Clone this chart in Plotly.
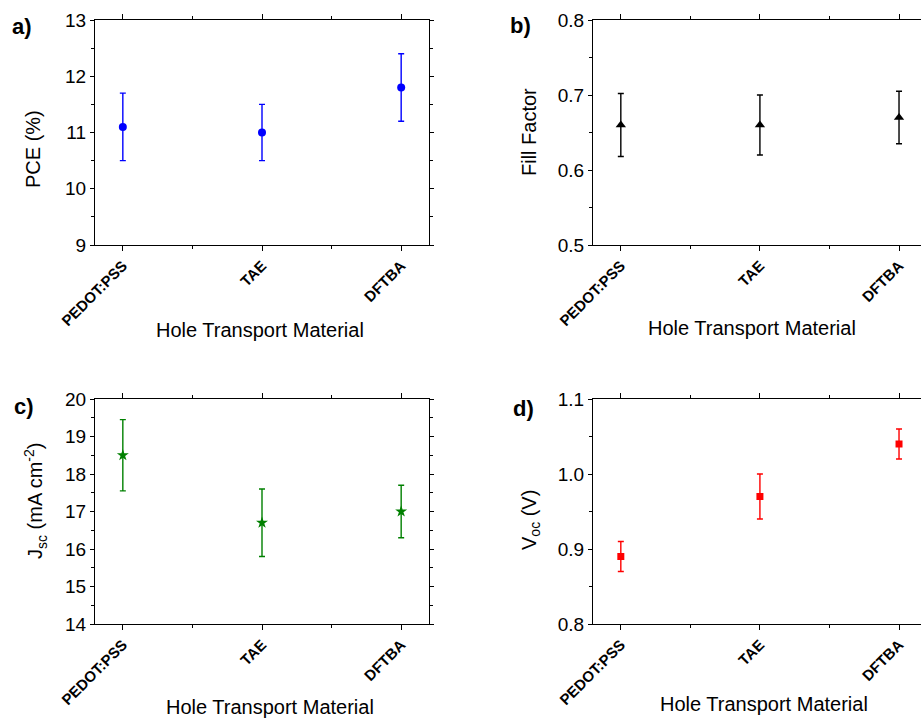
import plotly.graph_objects as go

W, H = 921, 718

categories = ["PEDOT:PSS", "TAE", "DFTBA"]

pce_mean = [11.1, 11.0, 11.8]
pce_err = [0.6, 0.5, 0.6]

ff_mean = [0.66, 0.66, 0.67]
ff_err = [0.042, 0.040, 0.035]

jsc_mean = [18.5, 16.7, 17.0]
jsc_err = [0.95, 0.90, 0.70]

voc_mean = [0.89, 0.97, 1.04]
voc_err = [0.02, 0.03, 0.02]

xpos = list(range(len(categories)))

FONT = "Liberation Sans, Arial, sans-serif"

def px_x(p):
    return p / W

def px_y(p):
    return 1 - p / H

fig = go.Figure()

panels = [
    ("", pce_mean, pce_err, "#0000ff", "circle", 8, (95, 429), (20, 245), [9, 13], 1, 0.5, [-0.2, 2.2]),
    ("2", ff_mean, ff_err, "#000000", "triangle-up", 9, (593, 921), (20, 245), [0.5, 0.8], 0.1, 0.05, [-0.2, 2.158]),
    ("3", jsc_mean, jsc_err, "#008000", "star", 9, (95, 429), (399, 624), [14, 20], 1, 0.5, [-0.2, 2.2]),
    ("4", voc_mean, voc_err, "#ff0000", "square", 7, (593, 921), (399, 624), [0.8, 1.1], 0.1, 0.05, [-0.2, 2.158]),
]

layout_axes = {}
for suf, mean, err, color, symbol, size, xd, yd, yr, dt, mdt, xr in panels:
    fig.add_trace(go.Scatter(
        x=xpos, y=mean, mode="markers",
        xaxis="x" + suf, yaxis="y" + suf,
        marker=dict(color=color, symbol=symbol, size=size, line=dict(width=0)),
        error_y=dict(type="data", array=err, visible=True, color=color, thickness=1.4, width=3),
        showlegend=False, cliponaxis=False,
    ))
    tickformat = ".1f" if dt < 1 else "d"
    layout_axes["xaxis" + suf] = dict(
        domain=[px_x(xd[0]), min(px_x(xd[1]), 1.0)],
        anchor="y" + suf,
        range=xr, automargin=False,
        tickmode="array", tickvals=xpos, ticktext=categories,
        tickangle=-45,
        tickfont=dict(family=FONT, size=15, color="black", weight="bold"),
        ticks="outside", ticklen=5, tickwidth=1.2, tickcolor="black",
        minor=dict(tickmode="array", tickvals=[0.5, 1.5], ticks="outside", ticklen=3, tickwidth=1, tickcolor="black"),
        showline=True, linecolor="black", linewidth=1.3, mirror="ticks",
        showgrid=False, zeroline=False,
    )
    layout_axes["yaxis" + suf] = dict(
        domain=[px_y(yd[1]), px_y(yd[0])],
        anchor="x" + suf,
        range=yr, automargin=False,
        dtick=dt, tick0=yr[0], tickformat=tickformat,
        tickfont=dict(family=FONT, size=19, color="black"),
        ticks="outside", ticklen=4, tickwidth=1.2, tickcolor="black",
        minor=dict(dtick=mdt, ticks="outside", ticklen=3, tickwidth=1, tickcolor="black"),
        showline=True, linecolor="black", linewidth=1.3, mirror="ticks",
        showgrid=False, zeroline=False,
    )

annotations = []

def ann(text, x, y, size, angle=0, bold=False, xanchor="center", yanchor="middle"):
    annotations.append(dict(
        text=("<b>%s</b>" % text) if bold else text,
        x=px_x(x), y=px_y(y), xref="paper", yref="paper",
        xanchor=xanchor, yanchor=yanchor, showarrow=False, textangle=angle,
        font=dict(family=FONT, size=size, color="black"),
    ))

# panel letters
ann("a)", 10, 26, 22, bold=True, xanchor="left")
ann("b)", 508, 25, 22, bold=True, xanchor="left")
ann("c)", 12, 406, 22, bold=True, xanchor="left")
ann("d)", 511, 408, 22, bold=True, xanchor="left")

# x titles
ann("Hole Transport Material", 260, 330, 20)
ann("Hole Transport Material", 752, 328, 20)
ann("Hole Transport Material", 270, 707, 20)
ann("Hole Transport Material", 764, 704, 20)

# y titles
ann("PCE (%)", 33, 149, 20, angle=-90)
ann("Fill Factor", 529, 132, 20, angle=-90)
ann("J<sub>sc</sub> (mA cm<sup>-2</sup>)", 35, 501, 20, angle=-90)
ann("V<sub>oc</sub> (V)", 530, 520, 20, angle=-90)

fig.update_layout(
    width=W, height=H,
    margin=dict(l=0, r=0, t=0, b=0, autoexpand=False),
    paper_bgcolor="white", plot_bgcolor="white",
    font=dict(family=FONT, color="black"),
    annotations=annotations,
    **layout_axes,
)

fig.write_html("out.html")
